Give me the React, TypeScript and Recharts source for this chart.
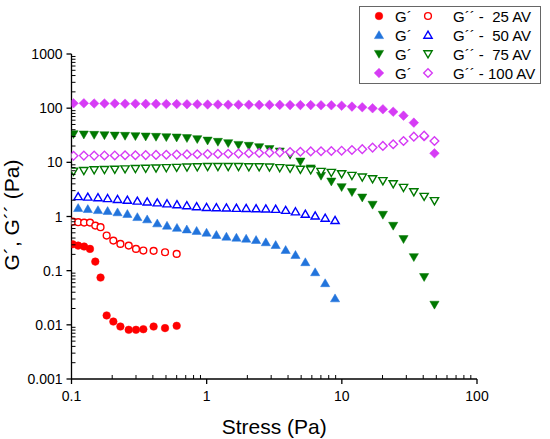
import React from 'react';
import { Legend, Scatter, ScatterChart, XAxis, YAxis } from 'recharts';

const FONT = '"Liberation Sans", Arial, Helvetica, sans-serif';

// 25 AV
const STRESS_25 = [0.102, 0.112, 0.124, 0.137, 0.15, 0.164, 0.182, 0.204, 0.23, 0.265, 0.3, 0.34, 0.405, 0.492, 0.6];
const G1_25 = [0.308, 0.29, 0.279, 0.252, 0.147, 0.0746, 0.0149, 0.0115, 0.0093, 0.0081, 0.0081, 0.0083, 0.0093, 0.0087, 0.0096];
const G2_25 = [0.805, 0.785, 0.771, 0.771, 0.679, 0.635, 0.445, 0.359, 0.312, 0.29, 0.252, 0.235, 0.232, 0.219, 0.204];

// 50 AV
const STRESS_50 = [
  0.112, 0.132, 0.157, 0.185, 0.219, 0.259, 0.307, 0.363, 0.431, 0.509, 0.603, 0.713, 0.843, 0.998,
  1.18, 1.4, 1.66, 1.96, 2.32, 2.74, 3.24, 3.84, 4.54, 5.37, 6.35, 7.53, 8.91,
];
const G1_50 = [
  1.44, 1.38, 1.32, 1.27, 1.2, 1.12, 0.98, 0.89, 0.75, 0.68, 0.62, 0.58, 0.545, 0.505,
  0.458, 0.426, 0.408, 0.391, 0.37, 0.336, 0.299, 0.242, 0.196, 0.144, 0.094, 0.059, 0.031,
];
const G2_50 = [
  2.35, 2.3, 2.24, 2.16, 2.08, 2.01, 1.94, 1.87, 1.8, 1.73, 1.66, 1.6, 1.53, 1.48,
  1.47, 1.45, 1.43, 1.42, 1.4, 1.39, 1.37, 1.31, 1.23, 1.11, 1.03, 0.94, 0.85,
];

// 75 AV and 100 AV share the same stress steps
const STRESS_HI = [
  0.1035, 0.1234, 0.1471, 0.1753, 0.209, 0.249, 0.297, 0.354, 0.422, 0.503, 0.6, 0.715,
  0.852, 1.016, 1.211, 1.443, 1.72, 2.051, 2.445, 2.914, 3.474, 4.141, 4.936, 5.885,
  7.015, 8.363, 9.965, 11.88, 14.16, 16.88, 20.12, 23.99, 28.6, 34.09, 40.64, 48.44,
];
const G1_75 = [
  33, 32.5, 32, 31.5, 31, 30.7, 30.3, 29.8, 29.4, 29, 28.6, 27.9,
  26.7, 25.1, 23.8, 22.5, 20.9, 20.1, 19, 17.5, 15.8, 13.7, 10.3, 7.7,
  5.61, 4.4, 3.47, 2.81, 2.23, 1.64, 1.07, 0.671, 0.381, 0.177, 0.0759, 0.0234,
];
const G2_75 = [
  6.8, 7, 7.2, 7.3, 7.4, 7.5, 7.6, 7.7, 7.8, 7.9, 8, 8.1,
  8.2, 8.3, 8.3, 8.3, 8.3, 8.2, 8.2, 8.1, 7.9, 7.7, 7.4, 7.2,
  6.74, 6.45, 6.1, 5.68, 5.31, 4.94, 4.54, 3.99, 3.41, 2.84, 2.33, 1.94,
];
const G1_100 = [
  123, 123, 122, 122, 122, 121, 121, 120, 120, 119, 119, 118,
  118, 117, 117, 116, 116, 116, 115, 115, 115, 114, 114, 114,
  113, 113, 111, 107, 104, 99.6, 95.5, 86, 72.7, 54, 30, 14.7,
];
const G2_100 = [
  13.2, 13.3, 13.3, 13.4, 13.4, 13.5, 13.5, 13.6, 13.7, 13.8, 13.9, 14,
  14.1, 14.2, 14.3, 14.4, 14.5, 14.7, 14.9, 15.1, 15.3, 15.5, 15.7, 15.9,
  16, 16.2, 16.4, 16.9, 17.5, 18.7, 20.1, 21.6, 24.8, 29.8, 31.1, 24.8,
];

const X_MAJOR = [0.1, 1, 10, 100];
const X_LABELS = ['0.1', '1', '10', '100'];
const Y_MAJOR = [0.001, 0.01, 0.1, 1, 10, 100, 1000];
const Y_LABELS = ['0.001', '0.01', '0.1', '1', '10', '100', '1000'];

const withMinors = (majors: number[]) => {
  const out: number[] = [];
  majors.forEach((m, i) => {
    out.push(m);
    if (i < majors.length - 1) for (let k = 2; k <= 9; k++) out.push(m * k);
  });
  return out;
};
const X_TICKS = withMinors(X_MAJOR);
const Y_TICKS = withMinors(Y_MAJOR);

const zip = (xs: number[], ys: number[]) => xs.map((x, i) => ({ x, y: ys[i] }));

type Kind = 'circle' | 'up' | 'down' | 'diamond';

const series = [
  { name: "G´ 25", kind: 'circle' as Kind, color: '#ff0000', open: false, data: zip(STRESS_25, G1_25) },
  { name: "G´´ 25", kind: 'circle' as Kind, color: '#ff0000', open: true, data: zip(STRESS_25, G2_25) },
  { name: "G´ 50", kind: 'up' as Kind, color: '#2274dc', open: false, data: zip(STRESS_50, G1_50) },
  { name: "G´´ 50", kind: 'up' as Kind, color: '#0000ff', open: true, data: zip(STRESS_50, G2_50) },
  { name: "G´ 75", kind: 'down' as Kind, color: '#007800', open: false, data: zip(STRESS_HI, G1_75) },
  { name: "G´´ 75", kind: 'down' as Kind, color: '#007800', open: true, data: zip(STRESS_HI, G2_75) },
  { name: "G´ 100", kind: 'diamond' as Kind, color: '#d63cf5', open: false, data: zip(STRESS_HI, G1_100) },
  { name: "G´´ 100", kind: 'diamond' as Kind, color: '#d63cf5', open: true, data: zip(STRESS_HI, G2_100) },
];

const legendRows = [
  { label: 'G´´ -  25 AV', kind: 'circle' as Kind, filled: '#ff0000', open: '#ff0000' },
  { label: 'G´´ -  50 AV', kind: 'up' as Kind, filled: '#2274dc', open: '#0000ff' },
  { label: 'G´´ -  75 AV', kind: 'down' as Kind, filled: '#007800', open: '#007800' },
  { label: 'G´´ - 100 AV', kind: 'diamond' as Kind, filled: '#d63cf5', open: '#d63cf5' },
];

function Mark({ cx, cy, kind, color, open }: { cx: number; cy: number; kind: Kind; color: string; open: boolean }) {
  const paint = open
    ? { fill: '#fff', stroke: color, strokeWidth: 1.4 }
    : { fill: color, stroke: color, strokeWidth: 0.5 };
  if (kind === 'circle') {
    const r = open ? 3.4 : 3.8;
    return <circle cx={cx} cy={cy} r={r} {...paint} />;
  }
  let pts: number[][];
  if (kind === 'up') pts = [[0, -4.3], [4.6, 3.6], [-4.6, 3.6]];
  else if (kind === 'down') pts = [[0, 4.3], [4.6, -3.6], [-4.6, -3.6]];
  else pts = [[0, -4.8], [4.8, 0], [0, 4.8], [-4.8, 0]];
  if (open) pts = pts.map(([a, b]) => [a * 0.9, b * 0.9]);
  return <polygon points={pts.map(([a, b]) => `${cx + a},${cy + b}`).join(' ')} {...paint} />;
}

const XTick = (props: any) => {
  const { x, y, payload } = props;
  const i = X_MAJOR.indexOf(payload.value);
  if (i < 0) return <line x1={x} x2={x} y1={y} y2={y - 4} stroke="#000" strokeWidth={1} />;
  return (
    <g>
      <line x1={x} x2={x} y1={y} y2={y + 5} stroke="#000" strokeWidth={1.3} />
      <text x={x} y={y + 22} textAnchor="middle" fontSize={14} fontFamily={FONT} fill="#000">
        {X_LABELS[i]}
      </text>
    </g>
  );
};

const YTick = (props: any) => {
  const { x, y, payload } = props;
  const i = Y_MAJOR.indexOf(payload.value);
  if (i < 0) return <line x1={x} x2={x + 4} y1={y} y2={y} stroke="#000" strokeWidth={1} />;
  return (
    <g>
      <line x1={x} x2={x - 5} y1={y} y2={y} stroke="#000" strokeWidth={1.3} />
      <text x={x - 9} y={y + 5} textAnchor="end" fontSize={14} fontFamily={FONT} fill="#000">
        {Y_LABELS[i]}
      </text>
    </g>
  );
};

function LegendBox() {
  return (
    <svg width={182} height={78} style={{ display: 'block' }}>
      <rect x={0.5} y={0.5} width={181} height={77} fill="#fff" stroke="#666" strokeWidth={1} />
      {legendRows.map((r, i) => {
        const cy = 10 + i * 19;
        return (
          <g key={r.label}>
            <Mark cx={20} cy={cy} kind={r.kind} color={r.filled} open={false} />
            <text x={36} y={cy + 5.5} fontSize={15} fontFamily={FONT} fill="#000">G´</text>
            <Mark cx={69} cy={cy} kind={r.kind} color={r.open} open={true} />
            <text x={94} y={cy + 5.5} fontSize={15} fontFamily={FONT} fill="#000" xmlSpace="preserve" style={{ whiteSpace: 'pre' }}>
              {r.label}
            </text>
          </g>
        );
      })}
    </svg>
  );
}

export default function App() {
  return (
    <div style={{ position: 'absolute', left: 0, top: 0, width: 550, height: 439, background: '#fff', fontFamily: FONT }}>
      <ScatterChart width={550} height={439} margin={{ top: 54, right: 73, bottom: 0, left: 11.5 }}>
        <XAxis
          dataKey="x"
          type="number"
          scale="log"
          domain={[0.1, 100]}
          ticks={X_TICKS}
          interval={0}
          allowDataOverflow
          height={60}
          tickSize={0}
          tickMargin={0}
          tickLine={false}
          tick={<XTick />}
          axisLine={{ stroke: '#000', strokeWidth: 1.3 }}
          label={{ value: 'Stress (Pa)', position: 'insideBottom', offset: 5, fontSize: 21, fill: '#000', fontFamily: FONT }}
        />
        <YAxis
          dataKey="y"
          type="number"
          scale="log"
          domain={[0.001, 1000]}
          ticks={Y_TICKS}
          interval={0}
          allowDataOverflow
          width={60}
          tickSize={0}
          tickMargin={0}
          tickLine={false}
          tick={<YTick />}
          axisLine={{ stroke: '#000', strokeWidth: 1.3 }}
          label={{
            content: () => (
              <text x={18.5} y={215} transform="rotate(-90 18.5 215)" textAnchor="middle" fontSize={21} fontFamily={FONT} fill="#000">
                G´, G´´ (Pa)
              </text>
            ),
          }}
        />
        <Legend
          layout="horizontal"
          verticalAlign="middle"
          align="center"
          wrapperStyle={{ left: 359, top: 6, width: 182, height: 78 }}
          content={() => <LegendBox />}
        />
        {series.map((s) => (
          <Scatter
            key={s.name}
            name={s.name}
            data={s.data}
            isAnimationActive={false}
            shape={(p: any) => <Mark cx={p.cx} cy={p.cy} kind={s.kind} color={s.color} open={s.open} />}
          />
        ))}
      </ScatterChart>
    </div>
  );
}
